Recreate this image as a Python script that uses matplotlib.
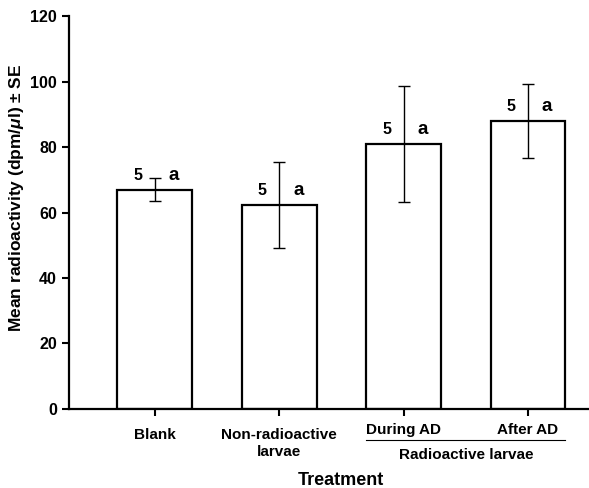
import matplotlib
matplotlib.use("Agg")
import matplotlib.pyplot as plt
import matplotlib.transforms as mtransforms

plt.rcParams["font.family"] = ["Liberation Sans", "DejaVu Sans"]
plt.rcParams["font.weight"] = "bold"
plt.rcParams["mathtext.fontset"] = "custom"
plt.rcParams["mathtext.rm"] = "Liberation Sans:bold"
plt.rcParams["mathtext.it"] = "Liberation Sans:italic:bold"

categories = ["Blank", "Non-radioactive\nlarvae", "During AD", "After AD"]
means = [67.0, 62.3, 81.0, 88.0]
se = [3.5, 13.1, 17.7, 11.3]
n_labels = ["5", "5", "5", "5"]
letters = ["a", "a", "a", "a"]
group_label = "Radioactive larvae"
group_members = [2, 3]

fig = plt.figure(figsize=(5.89, 4.88), dpi=100)
ax = fig.add_axes([0.117, 0.162, 0.883, 0.805])

x = list(range(len(categories)))
width = 0.6
ax.bar(x, means, width=width, color="white", edgecolor="black", linewidth=1.6, zorder=2)
ax.errorbar(x, means, yerr=se, fmt="none", ecolor="black", elinewidth=1.0,
            capsize=4, capthick=1.0, zorder=3)

for xi, m, nl, lt in zip(x, means, n_labels, letters):
    ax.text(xi - 0.137, m + 3.0, nl, ha="center", va="baseline", fontsize=11.5, fontweight="bold")
    ax.text(xi + 0.153, m + 3.0, lt, ha="center", va="baseline", fontsize=13.5, fontweight="bold")

ax.set_xlim(-0.69, 3.49)
ax.set_ylim(0, 120)
ax.set_yticks(range(0, 121, 20))
ax.set_xticks(x)
ax.set_xticklabels(categories, fontsize=11, fontweight="bold")
ax.tick_params(axis="both", direction="out", length=5, width=1.5, labelsize=11.5)
ax.tick_params(axis="x", pad=9, labelsize=11)
for lbl in ax.get_yticklabels():
    lbl.set_fontweight("bold")
# the two radioactive groups sit a bit higher than the others
for i in group_members:
    lbl = ax.get_xticklabels()[i]
    lbl.set_transform(lbl.get_transform() + mtransforms.ScaledTranslation(0, 4 / 72, fig.dpi_scale_trans))

for side in ["top", "right"]:
    ax.spines[side].set_visible(False)
for side in ["left", "bottom"]:
    ax.spines[side].set_linewidth(1.6)

# bracket line + group label under the radioactive bars
trans = mtransforms.blended_transform_factory(ax.transData, ax.transAxes)
x0 = group_members[0] - width / 2
x1 = group_members[-1] + width / 2
ax.plot([x0, x1], [-0.078, -0.078], color="black", linewidth=0.8, transform=trans, clip_on=False)
ax.text((x0 + x1) / 2, -0.117, group_label, ha="center", va="center", fontsize=11,
        fontweight="bold", transform=trans)

ax.set_xlabel("Treatment", fontsize=13, fontweight="bold", va="center")
ax.xaxis.set_label_coords(0.523, -0.183)
ax.set_ylabel("Mean radioactivity (dpm/$\\mu$l) \u00b1 SE", fontsize=12.5, fontweight="bold", va="center")
ax.yaxis.set_label_coords(-0.1, 0.537)

fig.savefig("out.png", dpi=100)
